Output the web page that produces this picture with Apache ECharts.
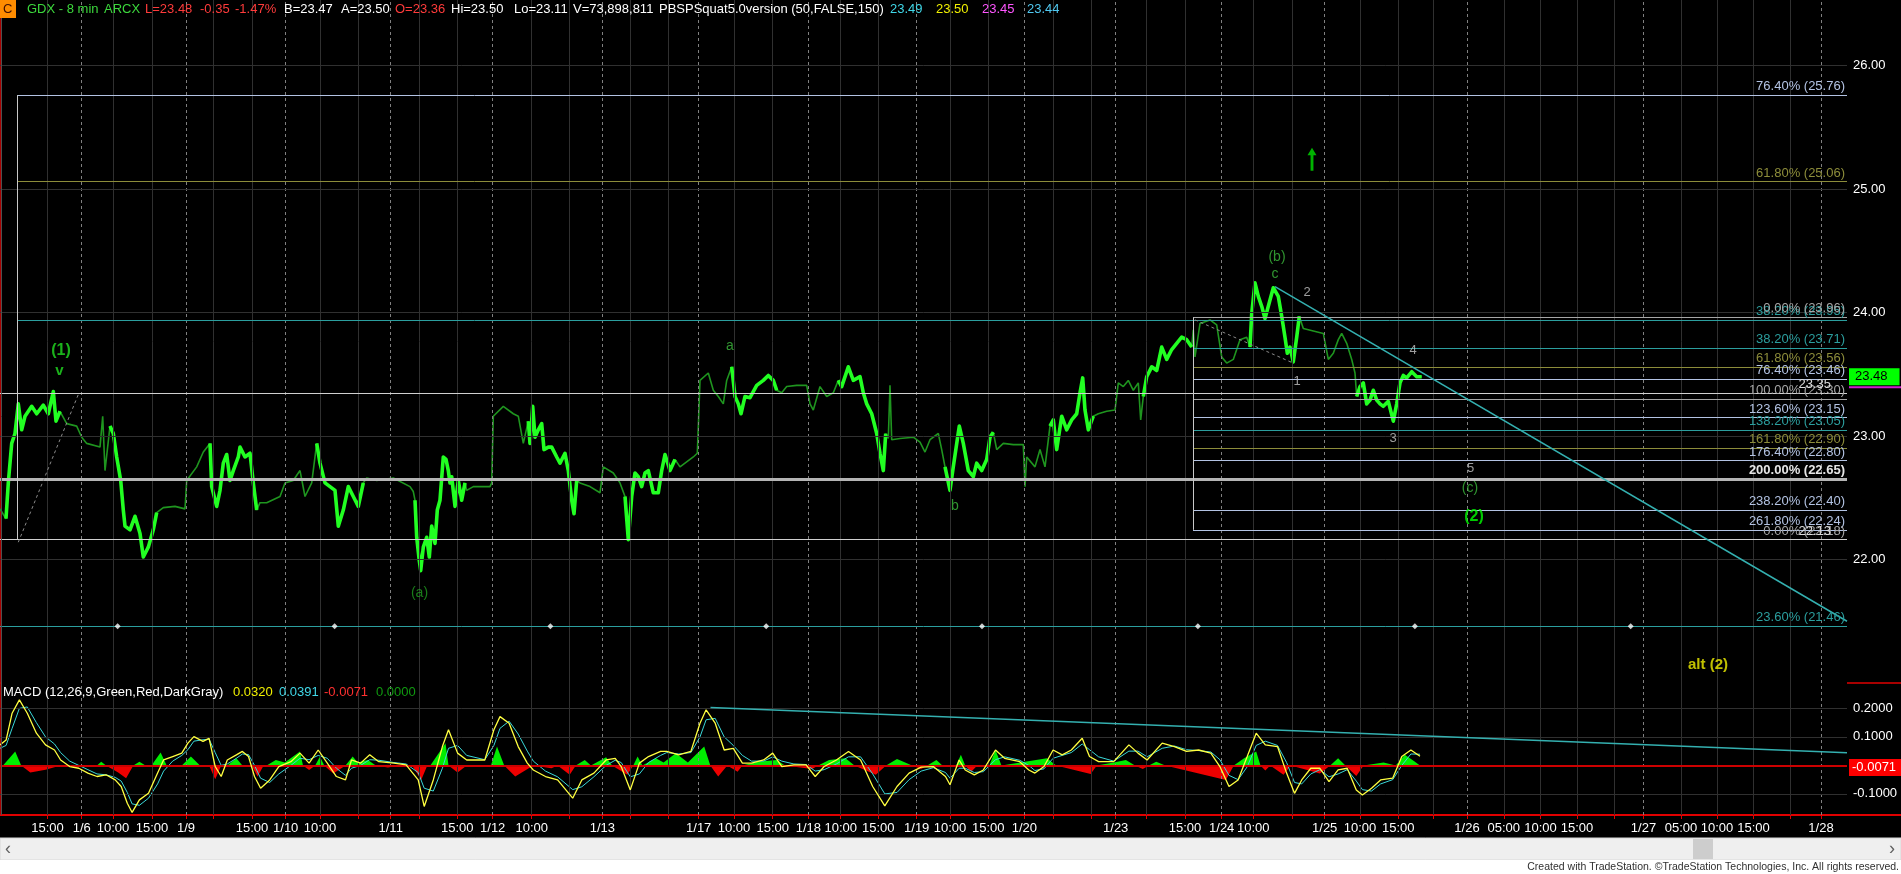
<!DOCTYPE html>
<html><head><meta charset="utf-8">
<script src="https://cdn.jsdelivr.net/npm/echarts@6/dist/echarts.min.js"></script>
<style>html,body{margin:0;padding:0;background:#000;}#c{width:1901px;height:874px;}</style>
</head><body><div id="c"></div>
<script>
// ---------- DATA (x = 8-minute bar number, y = price) ----------
const tickBars = [47.5, 81.7, 113, 152, 186, 213, 252, 285.7, 320, 358, 390.7, 419.3, 457.3, 492.7, 531.7, 569, 602.3, 630, 668.3, 698.7, 734, 772.7, 808.3, 840.7, 878.3, 916.7, 950, 988.3, 1024.3, 1053, 1091, 1115.7, 1146.7, 1185, 1221.7, 1253.3, 1292.7, 1324.7, 1360, 1398.3, 1433.3, 1467, 1503.8, 1540.5, 1577, 1614, 1643.5, 1681, 1717, 1753.5, 1790, 1821];
const tickLabels = ['15:00','1/6','10:00','15:00','1/9','','15:00','1/10','10:00','','1/11','','15:00','1/12','10:00','','1/13','','','1/17','10:00','15:00','1/18','10:00','15:00','1/19','10:00','15:00','1/20','','','1/23','','15:00','1/24','10:00','','1/25','10:00','15:00','','1/26','05:00','10:00','15:00','','1/27','05:00','10:00','15:00','','1/28'];
const sessionOpen  = [5, 109, 209, 316, 415, 528, 625, 727, 837, 944, 1049, 1143, 1250, 1356];
const sessionClose = [60, 162, 259, 366, 465, 577, 676, 781, 886, 996, 1098, 1193, 1300, 1425];

const priceBar = [0,6,8.3,11.7,15,18.3,21.7,25,31.7,36.7,43.3,48.3,53.3,56,60,66.7,76.7,81.7,86.7,100,102.7,105,110,113.3,116.7,120.7,123.3,125,130,135,140,143.3,148.3,153.3,156.7,163.3,175,185,186.7,196.7,203.3,210,211.7,216.7,220,223.3,226.7,230,233.3,238.3,240,245,250,253.3,256.7,260,266.7,280,285,293.3,300,305,311.7,316.7,320,325,330,335,338.3,343.3,348.3,353.3,358.3,363.3,366.7,376.7,393.3,410,413.3,415,416.7,419.3,420.7,423.3,426.7,429.3,431.7,435,437.3,440,443.3,446,448.3,450,451.7,455,458.3,461.7,465,466.7,473.3,490,491.7,493.3,503.3,513.3,518.3,523.3,528.3,530,532.7,535,538.3,541.7,544,548.3,551.7,556.7,560,565,568.3,571.7,574,576.7,580,590,600,603.3,613.3,620,625,628.3,631.7,635,638.3,641.7,645,648.3,653.3,658.3,661.7,665,670,675,680,693.3,697.3,698.7,700,708.3,713.3,718.3,723.3,726.7,731.7,735,738.3,741,745,750,756.7,763.3,768.3,773.3,776.7,781.7,786.7,796.7,806.7,810,813.3,820,826.7,833.3,838.3,841.7,848.3,853.3,860,863.3,866.7,871.7,876.7,880,883.3,885.7,888.3,890,891.7,900,913.3,920,925,930,938.3,941.7,945,950,953.3,959.3,963.3,968.3,973.3,976.7,981.7,986.7,990,993.3,996.7,1003.3,1013.3,1023.3,1025,1026.7,1035,1040,1045,1050,1053.3,1056.7,1061.7,1066.7,1071.7,1076.7,1080,1082.7,1085,1088.3,1093.3,1098.3,1106.7,1115,1118.3,1123.3,1128.3,1133.3,1138.3,1140.7,1143.3,1146.7,1151.7,1156.7,1161.7,1166.7,1171.7,1176.7,1181.7,1186.7,1191.7,1193.3,1195,1200,1210,1216.7,1221.7,1226.7,1233.3,1240,1246.7,1250,1251.7,1255,1258.3,1261.7,1265,1268.3,1273.3,1278.3,1281.7,1285,1287.3,1290,1293.3,1296.7,1299.3,1303.3,1313.3,1323.3,1328.3,1333.3,1338.3,1341.7,1346.7,1351.7,1355,1356.7,1360,1363.3,1366.7,1370,1373.3,1376.7,1380,1383.3,1388.3,1393.3,1396.7,1400,1403.3,1406.7,1411.7,1416.7,1421.7];
const priceClose = [22.41,22.33,22.62,22.94,23.02,23.26,23.05,23.16,23.24,23.18,23.25,23.18,23.36,23.12,23.20,23.10,23.08,22.99,22.94,22.91,23.16,22.72,23.08,23.02,22.83,22.64,22.40,22.27,22.24,22.35,22.21,22.02,22.10,22.24,22.38,22.42,22.43,22.41,22.64,22.75,22.87,22.94,22.59,22.43,22.56,22.78,22.85,22.64,22.72,22.83,22.91,22.83,22.86,22.62,22.40,22.46,22.46,22.51,22.62,22.64,22.72,22.51,22.62,22.94,22.78,22.62,22.59,22.56,22.27,22.40,22.59,22.51,22.43,22.62,22.66,22.64,22.66,22.59,22.55,22.48,22.18,21.99,21.91,22.10,22.18,22.02,22.27,22.13,22.40,22.48,22.83,22.81,22.72,22.62,22.67,22.43,22.64,22.48,22.62,22.56,22.59,22.59,22.62,23.16,23.24,23.18,23.16,22.94,23.12,22.94,23.24,22.99,23.05,23.10,22.89,22.91,22.91,22.83,22.78,22.86,22.72,22.48,22.37,22.64,22.62,22.59,22.54,22.75,22.70,22.62,22.51,22.16,22.51,22.70,22.67,22.59,22.70,22.72,22.54,22.54,22.72,22.85,22.72,22.81,22.75,22.83,22.86,23.16,23.45,23.51,23.37,23.32,23.26,23.45,23.56,23.32,23.26,23.18,23.32,23.31,23.41,23.45,23.49,23.45,23.37,23.35,23.40,23.41,23.41,23.26,23.21,23.40,23.32,23.35,23.45,23.40,23.56,23.45,23.48,23.35,23.26,23.18,23.02,22.86,22.72,23.02,22.98,23.41,22.97,22.98,22.99,22.95,22.87,22.97,23.02,22.89,22.75,22.56,22.75,23.08,22.94,22.72,22.67,22.78,22.72,22.81,22.99,23.03,22.89,22.94,22.93,22.93,22.59,22.83,22.75,22.89,22.75,23.08,23.13,22.89,23.16,23.05,23.13,23.18,23.35,23.47,23.21,23.05,23.16,23.18,23.20,23.21,23.43,23.40,23.45,23.37,23.43,23.13,23.32,23.48,23.56,23.53,23.72,23.62,23.70,23.75,23.80,23.78,23.72,23.86,23.64,23.91,23.94,23.90,23.64,23.59,23.62,23.78,23.80,23.72,23.99,24.24,24.13,24.05,23.95,24.05,24.20,24.13,23.97,23.80,23.67,23.72,23.60,23.80,23.97,23.87,23.85,23.83,23.62,23.67,23.78,23.83,23.75,23.62,23.51,23.32,23.40,23.43,23.26,23.29,23.37,23.29,23.26,23.24,23.28,23.12,23.26,23.43,23.49,23.47,23.52,23.48,23.48];
const lastPrice = 23.48;
const altPlotPrice = 23.395;

const fibPrice = [25.76, 25.06, 23.94, 23.96, 23.71, 23.56, 23.46, 23.30, 23.15, 23.05, 22.90, 22.80, 22.65, 22.40, 22.24, 22.16, 21.46];
const fibText = ['76.40% (25.76)','61.80% (25.06)','38.20% (23.95)','0.00% (23.96)','38.20% (23.71)','61.80% (23.56)','76.40% (23.46)','100.00% (23.30)','123.60% (23.15)','138.20% (23.05)','161.80% (22.90)','176.40% (22.80)','200.00% (22.65)','238.20% (22.40)','261.80% (22.24)','0.00% (22.18)','23.60% (21.46)'];
const fibFromBar = [17, 17, 17, 1193, 1193, 1193, 1193, 1193, 1193, 1193, 1193, 1193, 0, 1193, 1193, 0, 0];
const levelPrice = [23.35, 22.16];
const levelText = ['23.35', '22.13'];
const fibAnchorBar = [17, 1193];
const fibAnchorTop = [25.76, 23.96];
const fibAnchorBottom = [22.16, 22.24];
const trendBars = [1275, 1847];
const trendPrices = [24.21, 21.50];
const swingDashA = [[18.3, 22.14], [79, 23.35]];
const swingDashB = [[1195, 23.94], [1293.3, 23.59]];
const dotBars = [117.6, 334.6, 550.4, 766.2, 982, 1197.9, 1414.9, 1630.7];
const dotPrice = 21.46;
const priceGridValues = [22, 23, 24, 25, 26];

const waveText = ['(1)','v','(a)','a','b','(b)','c','2','1','3','4','5','(c)','(2)','alt (2)'];
const waveBar = [61, 59.3, 419.5, 730, 955, 1277, 1275, 1307, 1297, 1393, 1413, 1470.6, 1470, 1474, 1708];
const wavePrice = [23.69, 23.53, 21.73, 23.73, 22.43, 24.45, 24.31, 24.16, 23.44, 22.98, 23.69, 22.74, 22.58, 22.35, 21.15];
const arrowBar = 1312, arrowPrice = 25.24;

const macdBar = [0,6.1,12.1,19.4,27.3,36.4,45.5,54.5,60.6,69.7,78.8,87.9,97,106,115.2,121.2,127.3,132.1,139.4,148.5,157.6,163.6,172.7,181.8,187.9,193.9,203,209.1,215.2,221.2,227.3,236.4,242.4,248.5,254.5,260.6,269.7,278.8,290.9,300,309.1,318.2,327.3,336.4,345.5,351.5,360.6,369.7,378.8,393.9,406.1,418.2,424.2,433.3,442.4,448.5,457.6,466.7,484.8,493.9,500,509.1,518.2,527.3,533.3,545.5,557.6,572.7,581.8,593.9,606.1,615.2,621.2,630.3,639.4,648.5,660.6,666.7,678.8,690.9,700,706.1,715.2,724.2,733.3,742.4,751.5,763.6,772.7,781.8,793.9,806.1,815.2,824.2,836.4,848.5,860.6,872.7,884.8,897,909.1,921.2,933.3,945.5,950,959.1,965.2,974.3,983.4,995.5,1004.6,1019.7,1028.8,1034.9,1044,1053.1,1062.2,1071.3,1082.2,1089.5,1098.6,1113.7,1128.9,1138,1147.1,1162.2,1174.4,1186.5,1198.6,1210.8,1219.9,1229,1238.1,1247.2,1256.2,1265.3,1277.5,1286.6,1294.5,1301.7,1310.8,1319.9,1329,1338.1,1347.2,1356.3,1362.4,1371.5,1380.6,1392.7,1401.8,1410.9,1420];
const macdValue = [0.072,0.089,0.183,0.230,0.183,0.113,0.072,0.054,0.019,-0.004,-0.010,-0.027,-0.039,-0.033,-0.051,-0.074,-0.133,-0.165,-0.121,-0.098,-0.027,0.019,0.031,0.043,0.078,0.101,0.084,0.095,-0.004,-0.039,0.019,0.037,0.049,0.031,-0.039,-0.080,-0.051,-0.004,0.013,0.043,0.008,0.054,0.008,-0.039,-0.051,0.019,0.008,0.037,0.013,0.008,0.002,-0.051,-0.144,-0.051,0.066,0.125,0.043,0.019,0.019,0.125,0.171,0.148,0.066,0.008,-0.016,-0.039,-0.051,-0.115,-0.051,-0.027,0.019,0.025,-0.004,-0.086,0.008,0.031,0.049,0.049,0.037,0.049,0.148,0.195,0.148,0.054,0.060,0.008,0.008,0.019,0.043,-0.004,0.002,0.002,-0.039,-0.004,0.019,0.049,0.019,-0.074,-0.142,-0.074,-0.027,-0.006,-0.004,-0.039,-0.068,0.019,-0.016,-0.033,-0.016,0.054,0.025,0.013,-0.016,-0.027,-0.004,0.054,0.037,0.054,0.095,0.031,0.013,0.013,0.072,0.043,0.019,0.078,0.066,0.049,0.054,0.043,-0.004,-0.074,-0.051,0.031,0.113,0.072,0.066,-0.027,-0.098,-0.051,-0.010,-0.010,-0.057,-0.016,-0.010,-0.086,-0.104,-0.080,-0.051,-0.045,0.031,0.054,0.032];
const signalValue = [0.060,0.070,0.130,0.200,0.205,0.150,0.100,0.075,0.045,0.015,0.000,-0.015,-0.030,-0.033,-0.042,-0.055,-0.095,-0.135,-0.140,-0.115,-0.065,-0.020,0.015,0.035,0.055,0.085,0.090,0.092,0.045,0.000,0.005,0.025,0.040,0.038,0.000,-0.045,-0.060,-0.030,0.000,0.025,0.020,0.035,0.025,-0.010,-0.035,-0.010,0.000,0.020,0.018,0.010,0.005,-0.025,-0.080,-0.090,-0.010,0.060,0.070,0.035,0.020,0.070,0.130,0.155,0.110,0.050,0.015,-0.020,-0.040,-0.085,-0.075,-0.040,0.000,0.018,0.010,-0.040,-0.030,0.010,0.035,0.045,0.040,0.045,0.100,0.160,0.165,0.100,0.070,0.035,0.015,0.015,0.030,0.015,0.005,0.003,-0.020,-0.015,0.005,0.030,0.030,-0.030,-0.100,-0.095,-0.050,-0.020,-0.008,-0.025,-0.045,-0.010,-0.010,-0.025,-0.022,0.020,0.030,0.018,0.000,-0.018,-0.012,0.025,0.035,0.045,0.075,0.055,0.030,0.015,0.050,0.050,0.030,0.060,0.068,0.055,0.052,0.047,0.020,-0.035,-0.050,-0.005,0.070,0.085,0.070,0.010,-0.060,-0.065,-0.030,-0.015,-0.040,-0.030,-0.015,-0.055,-0.085,-0.090,-0.065,-0.050,0.000,0.040,0.0391];
const histBar = [3,15.2,21.2,30.3,45.5,60.6,97,101.2,106,118.2,126.1,133.3,139.4,145.5,151.5,160.6,166.7,181.8,190.9,200,209.1,215.2,221.2,227.3,236.4,242.4,251.5,257.6,263.6,266.7,275.8,284.8,300,303,309.1,315.2,320,324.2,333.3,345.5,352.7,357.6,367.9,375.8,387.9,400,412.1,421.2,427.3,430.3,445.5,448.5,457.6,466.7,490.9,497,504.2,515.2,533.3,551.5,557.6,569.7,575.8,584.8,590.9,606.1,612.1,627.3,633.3,637.6,642.4,655.8,663.6,675.8,687.9,704.2,710.3,718.2,727.3,737.6,742.4,757.6,777,784.8,812.1,818.2,829.1,845.5,854.5,875.8,886.1,897,912.1,921.2,927.3,936.4,942.4,956.1,960.9,965.2,971.2,977.3,989.4,995.5,1001.5,1047,1056.1,1090.7,1096.8,1113.7,1125.9,1135,1142.8,1148.9,1156.2,1165.3,1225.9,1233.8,1244.1,1256.2,1260.5,1265.3,1270.2,1283.5,1290.8,1319.9,1330.2,1338.1,1345.4,1356.3,1363.6,1383.6,1395.7,1404.8,1413.9,1420];
const histValue = [0,0.049,0,-0.025,-0.015,0,0,0.013,0,-0.025,-0.045,0,0.013,0,0,0.045,0,0,0.031,0,0,-0.049,0,0,0.025,0,0,-0.039,0,0,0.019,0.010,0.049,0,-0.016,0,0.031,0,-0.028,0,0.031,0.010,0.019,0,-0.007,0,0,-0.051,0,0,0.078,0,-0.025,0,0,0.066,0,-0.039,0,-0.010,0,-0.033,0,0.019,0,0.029,0,-0.033,0,0.031,0,0.025,0.010,0.043,0.010,0.066,0,-0.039,0,-0.022,0,0.013,0.019,0,-0.013,0,0.019,0.025,0,-0.033,0,0.022,0,-0.013,0,0.019,0,0,0.037,0,-0.022,0,0,0.054,0,0.025,0,-0.030,0,0.010,0.019,0,-0.013,0,0.013,0,-0.051,0,0.025,0.049,0,-0.018,0,-0.033,0,-0.028,0,0.025,0,-0.037,0,0.010,0,0.037,0.015,-0.007];
const macdTrendBars = [710.5, 1847];
const macdTrendValues = [0.203, 0.044];
const macdLast = -0.0071;
const macdGridValues = [-0.1, 0.1, 0.2];

// ---------- RENDERING ----------
const FONT = "'Liberation Sans', Arial, sans-serif";
const X_MAX = 1847;
const P_MIN = 21, P_MAX = 26.53, M_MIN = -0.174, M_MAX = 0.289;
const CLEAR = 'rgba(0,0,0,0)';
const isDay = i => tickLabels[i].indexOf('/') >= 0;

const pricePairs = priceBar.map((b, i) => [b, priceClose[i]]);
const inSession = b => sessionOpen.some((o, k) => b >= o && b <= sessionClose[k]);
const regularPairs = priceBar.map((b, i) => [b, inSession(b) ? priceClose[i] : null]);

const TEAL = '#2b9e9e', OLIVE = '#8c8c3a', LBLUE = '#b3c3e3', GRAY = '#a6a6a6', WHITE = '#d6d6d6';
function fibColor(t) {
  const r = parseFloat(t);
  if (r === 23.6 || r === 38.2 || r === 138.2) return TEAL;
  if (r === 61.8 || r === 161.8) return OLIVE;
  if (r === 0 || r === 100) return GRAY;
  if (r === 200) return WHITE;
  return LBLUE;
}
function seg(a, b, style, label) {
  return [{ coord: a, lineStyle: style, label: label || { show: false } }, { coord: b }];
}
const vGrid = (lo, hi) => tickBars.map((b, i) => seg([b, lo], [b, hi],
  { color: isDay(i) ? '#808080' : '#303030', type: isDay(i) ? [3, 3] : 'solid', width: 1 }));
const hGrid = (vals) => vals.map(v => seg([0, v], [X_MAX, v], { color: '#303030', type: 'solid', width: 1 }));

const fibLines = fibPrice.map((p, i) => {
  const c = fibColor(fibText[i]);
  const bold = parseFloat(fibText[i]) === 200;
  return seg([fibFromBar[i], p], [X_MAX, p],
    { color: bold ? '#b4b4b4' : c, width: bold ? 3 : 1, type: 'solid' },
    { show: true, position: 'insideEndTop', formatter: fibText[i], color: bold ? '#e6e6e6' : c,
      fontSize: 13, fontFamily: FONT, fontWeight: bold ? 'bold' : 'normal', distance: 2 });
});
const levelLines = levelPrice.map((p, i) => seg([0, p], [X_MAX, p],
  { color: '#d0d0d0', width: 1.2, type: 'solid' },
  { show: true, position: 'insideEndTop', formatter: levelText[i], color: '#dcdcdc', fontSize: 13,
    fontFamily: FONT, padding: [0, 14, 0, 0], distance: 2 }));
const anchorLines = fibAnchorBar.map((b, i) => seg([b, fibAnchorTop[i]], [b, fibAnchorBottom[i]],
  { color: '#c8c8c8', width: 1, type: 'solid' }));
const trendLine = seg([trendBars[0], trendPrices[0]], [trendBars[1], trendPrices[1]], { color: '#34b0b0', width: 1.5, type: 'solid' });
const dashLines = [swingDashA, swingDashB].map(s => seg(s[0], s[1], { color: '#8a8a8a', width: 1, type: [3, 3] }));
const priceBox = seg([0, lastPrice], [X_MAX, lastPrice], { color: CLEAR, width: 1 },
  { show: true, position: 'end', distance: 2, formatter: lastPrice.toFixed(2), color: '#000000', backgroundColor: '#00ff00',
    fontSize: 13, fontFamily: FONT, padding: [2, 12, 2, 6] });
const altBox = seg([0, altPlotPrice], [X_MAX, altPlotPrice], { color: CLEAR, width: 1 },
  { show: true, position: 'end', distance: 2, formatter: ' ', backgroundColor: '#d020d0',
    fontSize: 2, lineHeight: 2, padding: [0, 27, 0, 27] });

function waveStyle(t) {
  if (t === '(1)' || t === '(2)') return { color: t === '(2)' ? '#00ff00' : '#22dd22', fontSize: 16, fontWeight: 'bold' };
  if (t === 'v') return { color: '#22dd22', fontSize: 15, fontWeight: 'bold' };
  if (t === 'alt (2)') return { color: '#f0f000', fontSize: 15, fontWeight: 'bold' };
  if (t === '(a)') return { color: '#1f9a1f', fontSize: 14, fontWeight: 'normal' };
  if (/^[1-5]$/.test(t)) return { color: '#c4c4c4', fontSize: 13, fontWeight: 'normal' };
  return { color: '#3cba3c', fontSize: 14, fontWeight: 'normal' };
}
const waveData = waveText.map((t, i) => {
  const s = waveStyle(t);
  return { value: [waveBar[i], wavePrice[i]],
    label: { show: true, position: 'inside', formatter: t, color: s.color, fontSize: s.fontSize, fontWeight: s.fontWeight, fontFamily: FONT } };
});

const macdPairs = macdBar.map((b, i) => [b, macdValue[i]]);
const signalPairs = macdBar.map((b, i) => [b, signalValue[i]]);
const histPos = histBar.map((b, i) => [b, Math.max(histValue[i], 0)]);
const histNeg = histBar.map((b, i) => [b, Math.min(histValue[i], 0)]);
const macdZero = seg([0, 0], [X_MAX, 0], { color: '#cc0000', width: 2, type: 'solid' });
const macdTrend = seg([macdTrendBars[0], macdTrendValues[0]], [macdTrendBars[1], macdTrendValues[1]], { color: '#34b0b0', width: 1.5, type: 'solid' });
const macdBox = seg([0, macdLast], [X_MAX, macdLast], { color: CLEAR, width: 1 },
  { show: true, position: 'end', distance: 2, formatter: macdLast.toFixed(4), color: '#ffffff', backgroundColor: '#ff0000',
    fontSize: 13, fontFamily: FONT, padding: [2, 6, 2, 3] });

function txt(x, y, text, fill, size, align) {
  return { type: 'text', x: x, y: y, silent: true, z: 100,
    style: { text: text, fill: fill, font: (size || 13) + 'px ' + FONT, align: align || 'left', verticalAlign: 'middle',
             textAlign: align || 'left', textVerticalAlign: 'middle' } };
}
const header = [
  [27,'GDX - 8 min','#3cd83c'],[104,'ARCX','#3cd83c'],[145,'L=23.48','#ff3b3b'],[200,'-0.35','#ff3b3b'],[235,'-1.47%','#ff3b3b'],
  [284,'B=23.47','#ffffff'],[341,'A=23.50','#ffffff'],[395,'O=23.36','#ff3b3b'],[451,'Hi=23.50','#ffffff'],[514,'Lo=23.11','#ffffff'],
  [573,'V=73,898,811','#ffffff'],[659,'PBSPSquat5.0version (50,FALSE,150)','#ffffff'],[890,'23.49','#40d8e8'],[936,'23.50','#f0f000'],
  [982,'23.45','#ff55ff'],[1027,'23.44','#50c8f0']
];
const macdLegend = [[3,'MACD (12,26,9,Green,Red,DarkGray)','#ffffff'],[233,'0.0320','#f0f000'],[279,'0.0391','#40d8e8'],[324,'-0.0071','#ff3030'],[376,'0.0000','#109a10']];

const graphic = [
  { type: 'rect', shape: { x: 0, y: 0, width: 16, height: 18 }, style: { fill: '#ff8c00' }, z: 100 },
  txt(3, 9, 'C', '#401000', 13),
  ...header.map(h => txt(h[0], 9, h[1], h[2], 13)),
  ...macdLegend.map(h => txt(h[0], 692, h[1], h[2], 13)),
  { type: 'line', shape: { x1: 1.5, y1: 18, x2: 1.5, y2: 815 }, style: { stroke: '#505050', lineWidth: 1 }, z: 50 },
  { type: 'line', shape: { x1: 1847, y1: 683, x2: 1901, y2: 683 }, style: { stroke: '#e00000', lineWidth: 1.5 }, z: 50 },
  { type: 'line', shape: { x1: 1847, y1: 815, x2: 1901, y2: 815 }, style: { stroke: '#e00000', lineWidth: 2 }, z: 50 },
  { type: 'rect', shape: { x: 0, y: 838, width: 1901, height: 22 }, style: { fill: '#efefef', stroke: '#d8d8d8' }, z: 90 },
  { type: 'rect', shape: { x: 1693, y: 839, width: 20, height: 20 }, style: { fill: '#cdcdcd' }, z: 91 },
  txt(5, 849, '\u2039', '#606060', 18),
  txt(1889, 849, '\u203a', '#606060', 18),
  { type: 'rect', shape: { x: 0, y: 860, width: 1901, height: 14 }, style: { fill: '#ffffff' }, z: 90 },
  { type: 'text', x: 1899, y: 867, z: 100, silent: true,
    style: { text: 'Created with TradeStation. \u00a9TradeStation Technologies, Inc. All rights reserved.', fill: '#303030',
             font: "10.5px 'Liberation Sans Narrow', 'Liberation Sans', Arial, sans-serif", align: 'right', verticalAlign: 'middle',
             textAlign: 'right', textVerticalAlign: 'middle' } }
];

const option = {
  backgroundColor: '#000',
  animation: false,
  textStyle: { fontFamily: FONT },
  graphic: graphic,
  grid: [
    { left: 0, top: 0, width: X_MAX, height: 683 },
    { left: 0, top: 683, width: X_MAX, height: 132 }
  ],
  xAxis: [
    { type: 'value', gridIndex: 0, min: 0, max: X_MAX, show: false, splitLine: { show: false } },
    { type: 'value', gridIndex: 1, min: 0, max: X_MAX, splitLine: { show: false },
      axisLine: { show: true, onZero: false, lineStyle: { color: '#e00000', width: 2 } },
      axisTick: { show: true, customValues: tickBars, length: 4, lineStyle: { color: '#e00000' } },
      axisLabel: { show: true, customValues: tickBars, color: '#ffffff', fontSize: 13, fontFamily: FONT, margin: 7,
        formatter: v => { const i = tickBars.findIndex(t => Math.abs(t - v) < 0.01); return i >= 0 ? tickLabels[i] : ''; } } }
  ],
  yAxis: [
    { type: 'value', gridIndex: 0, position: 'right', min: P_MIN, max: P_MAX, splitLine: { show: false },
      axisLine: { show: true, lineStyle: { color: '#e00000', width: 1.5 } },
      axisTick: { show: true, customValues: priceGridValues, length: 4, lineStyle: { color: '#dddddd' } },
      axisLabel: { customValues: priceGridValues, color: '#ffffff', fontSize: 13, fontFamily: FONT, margin: 6,
                   formatter: v => v.toFixed(2) } },
    { type: 'value', gridIndex: 1, position: 'right', min: M_MIN, max: M_MAX, splitLine: { show: false },
      axisLine: { show: true, lineStyle: { color: '#e00000', width: 1.5 } },
      axisTick: { show: true, customValues: [-0.1, 0, 0.1, 0.2], length: 4, lineStyle: { color: '#dddddd' } },
      axisLabel: { customValues: [-0.1, 0, 0.1, 0.2], color: '#ffffff', fontSize: 13, fontFamily: FONT, margin: 6,
                   formatter: v => v.toFixed(4) } }
  ],
  series: [
    { type: 'line', xAxisIndex: 0, yAxisIndex: 0, data: [], z: 1, silent: true,
      markLine: { silent: true, symbol: 'none', animation: false,
        data: vGrid(P_MIN, P_MAX).concat(hGrid(priceGridValues)) } },
    { type: 'line', xAxisIndex: 0, yAxisIndex: 0, data: [], z: 2, silent: true,
      markLine: { silent: true, symbol: 'none', animation: false,
        data: fibLines.concat(levelLines, anchorLines, [trendLine], dashLines) } },
    { name: 'ext', type: 'line', xAxisIndex: 0, yAxisIndex: 0, data: pricePairs, showSymbol: false, z: 3,
      lineStyle: { color: '#1f951f', width: 1.6 } },
    { name: 'reg', type: 'line', xAxisIndex: 0, yAxisIndex: 0, data: regularPairs, showSymbol: false, z: 4,
      lineStyle: { color: '#22ff22', width: 3.6, join: 'round' } },
    { type: 'scatter', xAxisIndex: 0, yAxisIndex: 0, z: 5, symbol: 'diamond', symbolSize: 6,
      itemStyle: { color: '#ffffff' }, data: dotBars.map(b => [b, dotPrice]) },
    { type: 'scatter', xAxisIndex: 0, yAxisIndex: 0, z: 6, symbolSize: 1, itemStyle: { color: CLEAR }, data: waveData },
    { type: 'scatter', xAxisIndex: 0, yAxisIndex: 0, z: 6,
      symbol: 'path://M5,0 L10,7 L6.6,7 L6.6,22 L3.4,22 L3.4,7 L0,7 Z', symbolSize: [9, 23],
      itemStyle: { color: '#00e000' }, data: [[arrowBar, arrowPrice]] },
    { type: 'line', xAxisIndex: 0, yAxisIndex: 0, data: [], z: 20, silent: true,
      markLine: { silent: true, symbol: 'none', animation: false, data: [priceBox, altBox] } },

    { type: 'line', xAxisIndex: 1, yAxisIndex: 1, data: [], z: 1, silent: true,
      markLine: { silent: true, symbol: 'none', animation: false,
        data: vGrid(M_MIN, M_MAX).concat(hGrid(macdGridValues)) } },
    { type: 'line', xAxisIndex: 1, yAxisIndex: 1, data: histPos, showSymbol: false, z: 2,
      lineStyle: { width: 0 }, areaStyle: { color: '#00ee00', opacity: 1 } },
    { type: 'line', xAxisIndex: 1, yAxisIndex: 1, data: histNeg, showSymbol: false, z: 2,
      lineStyle: { width: 0 }, areaStyle: { color: '#ee0000', opacity: 1 } },
    { type: 'line', xAxisIndex: 1, yAxisIndex: 1, data: [], z: 3, silent: true,
      markLine: { silent: true, symbol: 'none', animation: false, data: [macdZero, macdTrend] } },
    { type: 'line', xAxisIndex: 1, yAxisIndex: 1, data: signalPairs, showSymbol: false, z: 4,
      lineStyle: { color: '#3ad8d8', width: 1 } },
    { type: 'line', xAxisIndex: 1, yAxisIndex: 1, data: macdPairs, showSymbol: false, z: 5,
      lineStyle: { color: '#ffff40', width: 1.3 } },
    { type: 'line', xAxisIndex: 1, yAxisIndex: 1, data: [], z: 20, silent: true,
      markLine: { silent: true, symbol: 'none', animation: false, data: [macdBox] } }
  ]
};

const chart = echarts.init(document.getElementById('c'), null, { renderer: 'canvas' });
chart.setOption(option);
</script></body></html>
